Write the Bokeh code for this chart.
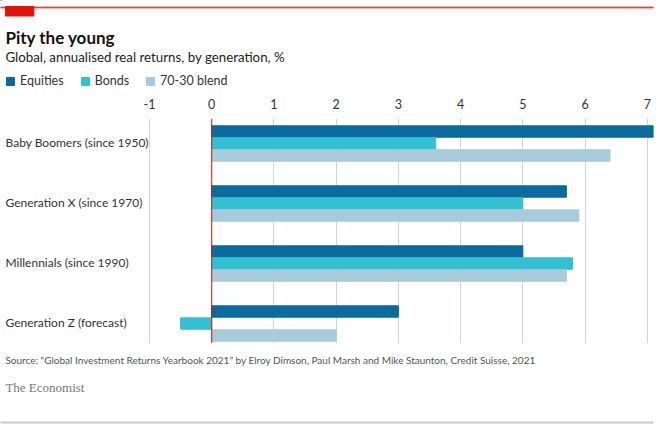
from bokeh.plotting import figure
from bokeh.layouts import column
from bokeh.models import (Range1d, Span, Legend, LegendItem, ColumnDataSource, FixedTicker)
from bokeh.core.properties import value
from bokeh.transform import dodge
from bokeh.embed import file_html
from bokeh.resources import INLINE

# ---- data ----
categories = ["Baby Boomers (since 1950)", "Generation X (since 1970)",
              "Millennials (since 1990)", "Generation Z (forecast)"]
equities = [7.2, 5.7, 5.0, 3.0]
bonds = [3.6, 5.0, 5.8, -0.5]
blend = [6.4, 5.9, 5.7, 2.0]
series_names = ["Equities", "Bonds", "70-30 blend"]
x_ticks = [-1, 0, 1, 2, 3, 4, 5, 6, 7]

title = "Pity the young"
subtitle = "Global, annualised real returns, by generation, %"
source_note = ("Source: \u201cGlobal Investment Returns Yearbook 2021\u201d by Elroy Dimson, "
               "Paul Marsh and Mike Staunton, Credit Suisse, 2021")
brand = "The Economist"

colors = ["#0b6b9f", "#33c0d3", "#a8cbdb"]
RED = "#e3120b"
FONT = "Lato"

# ---- layout geometry (pixels) ----
W = 665
HEAD_H = 92          # header strip 0..92
AXIS_H = 26          # axis band 92..118
FT, FB = 118, 343    # chart frame top / bottom
FOOT_H = 429 - FB    # footer strip 343..429
TICK_LEFT_PX, FR = 149, 653
X_LO, X_HI = -1.0, 7.1
K = (FR - TICK_LEFT_PX) / (X_HI - X_LO)
X_START = X_LO - TICK_LEFT_PX / K        # data value at canvas x = 0
GROUP = 60.0
C0 = 143.0

def xd(px):
    return X_START + px / K

def yd(py):
    return (py - C0) / GROUP

def strip(height, y_top, y_bottom):
    f = figure(width=W, height=height, output_backend="svg", toolbar_location=None,
               x_range=Range1d(0, W), y_range=Range1d(y_bottom, y_top),
               min_border=0)
    f.axis.visible = False
    f.grid.visible = False
    f.outline_line_color = None
    f.border_fill_color = "white"
    f.background_fill_color = "white"
    return f

# ---- header ----
h = strip(HEAD_H, 0, HEAD_H)
h.quad(left=[0], right=[W], top=[6.5], bottom=[7.5], color=RED, alpha=0.6)
h.quad(left=[5], right=[34], top=[6], bottom=[15.5], color=RED)
h.text(x=[5], y=[37], text=[title], text_font=value(FONT), text_font_style="bold",
       text_font_size="17px", text_color="#111111", text_baseline="alphabetic")
h.text(x=[5], y=[56], text=[subtitle], text_font=value(FONT),
       text_font_size="13.3px", text_color="#222222", text_baseline="alphabetic")
# legend proxies (kept outside the visible strip)
lg_r = [h.hbar(y=[-100], right=[1], left=0, height=1, color=c) for c in colors]
legend = Legend(items=[LegendItem(label=n, renderers=[r]) for n, r in zip(series_names, lg_r)],
                orientation="horizontal", location=(5, HEAD_H - 88),
                padding=0, margin=0, spacing=16, glyph_width=10, glyph_height=10,
                label_standoff=5, label_height=14,
                label_text_font=FONT, label_text_font_size="12.5px",
                label_text_color="#333333", background_fill_alpha=0,
                border_line_color=None)
h.add_layout(legend, "center")

# ---- main chart ----
src = ColumnDataSource(dict(idx=list(range(len(categories))), eq=equities,
                            bo=bonds, bl=blend, cat=categories))

p = figure(width=W, height=FB - HEAD_H, output_backend="svg", toolbar_location=None,
           x_range=Range1d(X_START, X_HI), y_range=Range1d(yd(FB), yd(FT)),
           x_axis_location="above",
           min_border_left=0, min_border_right=W - FR,
           min_border_top=AXIS_H, min_border_bottom=0)
p.outline_line_color = None
p.background_fill_color = "white"
p.border_fill_color = "white"

p.xgrid.ticker = FixedTicker(ticks=x_ticks)
p.xgrid.grid_line_color = "#cdd6dd"
p.xgrid.grid_line_width = 1
p.ygrid.grid_line_color = None

p.hbar(y=dodge("idx", -0.2, range=p.y_range), left=0, right="eq", height=0.19,
       source=src, color=colors[0])
p.hbar(y=dodge("idx", 0.0, range=p.y_range), left=0, right="bo", height=0.19,
       source=src, color=colors[1])
p.hbar(y=dodge("idx", 0.2, range=p.y_range), left=0, right="bl", height=0.19,
       source=src, color=colors[2])

p.add_layout(Span(location=0, dimension="height", line_color=RED, line_width=1))

p.text(x=xd(5), y=dodge("idx", -0.02, range=p.y_range), text="cat", source=src,
       text_font=value(FONT), text_font_size="12px", text_color="#333333",
       text_baseline="middle", text_align="left")

p.yaxis.visible = False
xa = p.xaxis[0]
xa.ticker = FixedTicker(ticks=x_ticks)
xa.major_label_overrides = {t: str(t) for t in x_ticks}
xa.axis_line_color = None
xa.major_tick_line_color = None
xa.minor_tick_line_color = None
xa.major_label_text_font = FONT
xa.major_label_text_font_size = "12.5px"
xa.major_label_text_color = "#333333"
xa.major_label_standoff = 4

# ---- footer ----
f = strip(FOOT_H, FB, FB + FOOT_H)
f.text(x=[5], y=[359], text=[source_note], text_font=value(FONT),
       text_font_size="10px", text_color="#555555", text_baseline="alphabetic")
f.text(x=[5], y=[387], text=[brand], text_font=value("Liberation Serif"),
       text_font_size="13px", text_color="#777777", text_baseline="alphabetic")
f.quad(left=[0], right=[W], top=[421.5], bottom=[422.5], color="#cccccc")

layout = column(h, p, f, spacing=0)
open("out.html", "w").write(file_html(layout, INLINE))
